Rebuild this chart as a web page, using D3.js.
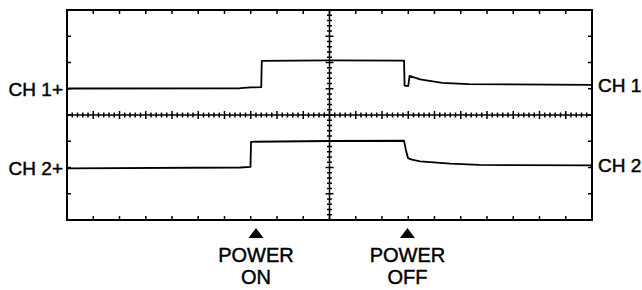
<!DOCTYPE html>
<html>
<head>
<meta charset="utf-8">
<style>
  body { margin: 0; background: #fff; }
  svg text { font-family: "Liberation Sans", Arial, sans-serif; fill: #000; stroke: #000; stroke-width: 0.45; }
</style>
</head>
<body>
<svg width="642" height="290"></svg>
<script src="https://d3js.org/d3.v7.min.js"></script>
<script>

// traces, in screen divisions: x 0..20, y -4..4
var ch1 = [
  [0, 1.01], [6.6, 1.02], [7.0, 1.05], [7.4, 1.06], [7.42, 2.06],
  [10.0, 2.08], [12.84, 2.07], [12.86, 1.12], [13.0, 1.10], [13.05, 1.49],
  [13.45, 1.36], [14.3, 1.22], [15.3, 1.18], [16.9, 1.17], [20, 1.15]
];
var ch2 = [
  [0, -2.03], [6.6, -2.0], [6.99, -1.98], [7.01, -1.02], [10.0, -0.99],
  [12.84, -0.98], [12.91, -1.33], [12.99, -1.64], [13.14, -1.70],
  [13.45, -1.77], [14.6, -1.85], [15.7, -1.90], [16.9, -1.91], [20, -1.92]
];

var leftLabels = [{text: "CH 1+", y: 1}, {text: "CH 2+", y: -2}];
var rightLabels = [{text: "CH 1", y: 1.14}, {text: "CH 2", y: -1.92}];
var markers = [
  {t: 7.2, lines: ["POWER", "ON"]},
  {t: 12.97, lines: ["POWER", "OFF"]}
];

var svg = d3.select("svg");
var x0 = 67, x1 = 592, y0 = 10, y1 = 220;

var x = d3.scaleLinear().domain([0, 20]).range([x0, x1]);
var y = d3.scaleLinear().domain([-4, 4]).range([y1, y0]);

var major = d3.range(1, 20), vmajor = d3.range(-3, 4);
var minorX = d3.range(0, 100).map(function(i) { return i / 5; }).filter(function(v) { return i5(v); });
var minorY = d3.range(-20, 20).map(function(i) { return i / 5; }).filter(function(v) { return i5(v); });
function i5(v) { return Math.abs(v - Math.round(v)) > 1e-6; }

var g = svg.append("g").attr("stroke", "#000").attr("fill", "none");

// border
g.append("rect")
  .attr("x", x0).attr("y", y0)
  .attr("width", x1 - x0).attr("height", y1 - y0)
  .attr("stroke-width", 2);

// edge ticks
var edge = g.append("g").attr("stroke-width", 1.5);
edge.selectAll(".tt").data(major).enter().append("line")
  .attr("x1", x).attr("x2", x).attr("y1", y0).attr("y2", y0 + 4);
edge.selectAll(".tb").data(major).enter().append("line")
  .attr("x1", x).attr("x2", x).attr("y1", y1).attr("y2", y1 - 4);
edge.selectAll(".tl").data(vmajor).enter().append("line")
  .attr("y1", y).attr("y2", y).attr("x1", x0).attr("x2", x0 + 4);
edge.selectAll(".tr").data(vmajor).enter().append("line")
  .attr("y1", y).attr("y2", y).attr("x1", x1).attr("x2", x1 - 4);

// center graticule
var cx = x(10), cy = y(0);
var cen = g.append("g").attr("stroke-width", 1.5);
cen.append("line").attr("x1", x0).attr("x2", x1).attr("y1", cy).attr("y2", cy);
cen.append("line").attr("x1", cx).attr("x2", cx).attr("y1", y0).attr("y2", y1);
cen.selectAll(".hM").data(major).enter().append("line")
  .attr("x1", x).attr("x2", x).attr("y1", cy - 4).attr("y2", cy + 4);
cen.selectAll(".hm").data(minorX).enter().append("line")
  .attr("x1", x).attr("x2", x).attr("y1", cy - 2.5).attr("y2", cy + 2.5);
cen.selectAll(".vM").data(vmajor).enter().append("line")
  .attr("y1", y).attr("y2", y).attr("x1", cx - 4).attr("x2", cx + 4);
cen.selectAll(".vm").data(minorY).enter().append("line")
  .attr("y1", y).attr("y2", y).attr("x1", cx - 2.5).attr("x2", cx + 2.5);

// traces
var line = d3.line().x(function(d) { return x(d[0]); }).y(function(d) { return y(d[1]); });
g.selectAll(".trace").data([ch1, ch2]).enter().append("path")
  .attr("d", line).attr("stroke-width", 1.8).attr("stroke-linejoin", "round");

// labels
svg.selectAll(".ll").data(leftLabels).enter().append("text")
  .attr("x", x0 - 4).attr("y", function(d) { return y(d.y) + 7; })
  .attr("text-anchor", "end").attr("font-size", 19)
  .text(function(d) { return d.text; });
svg.selectAll(".rl").data(rightLabels).enter().append("text")
  .attr("x", x1 + 6).attr("y", function(d) { return y(d.y) + 7; })
  .attr("font-size", 19)
  .text(function(d) { return d.text; });

// power markers
var m = svg.selectAll(".mk").data(markers).enter().append("g")
  .attr("transform", function(d) { return "translate(" + x(d.t) + ",0)"; });
m.append("path").attr("d", "M0,228L7.5,238L-7.5,238Z").attr("fill", "#000").attr("stroke", "none");
m.selectAll("text").data(function(d) { return d.lines; }).enter().append("text")
  .attr("y", function(d, i) { return 262 + i * 22; })
  .attr("text-anchor", "middle").attr("font-size", 20)
  .text(function(d) { return d; });

</script>
</body>
</html>
